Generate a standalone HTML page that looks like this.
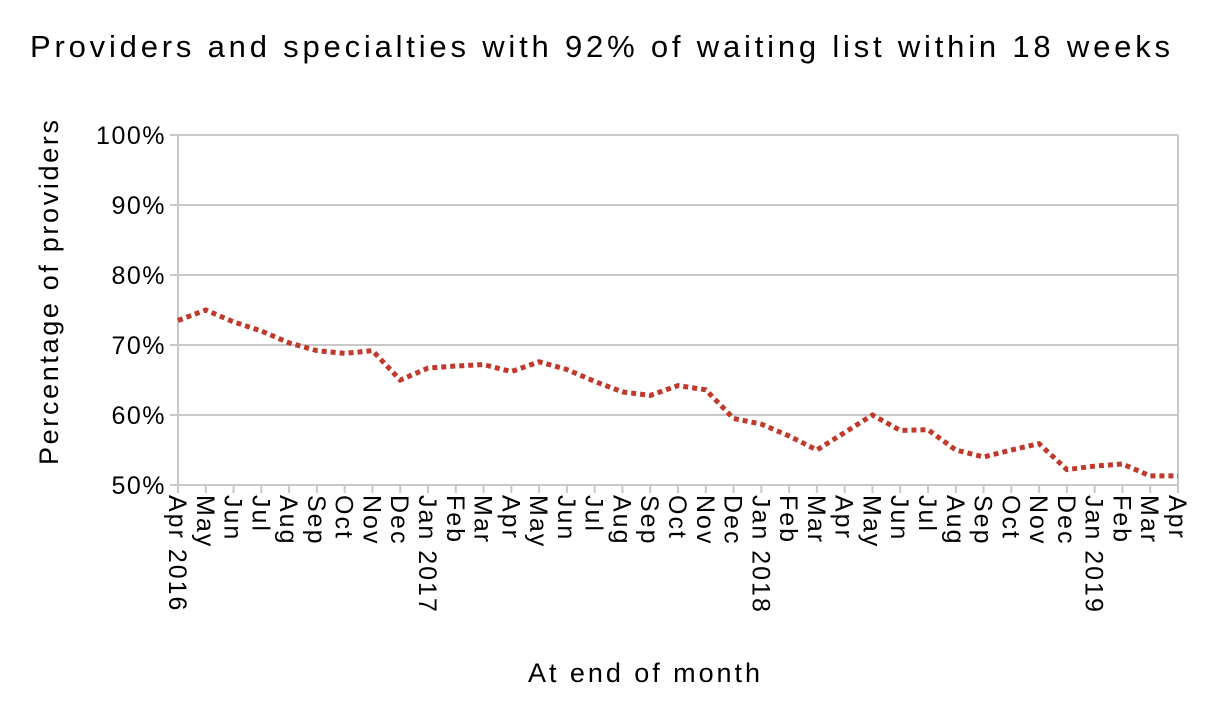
<!DOCTYPE html>
<html><head><meta charset="utf-8"><style>
body{margin:0;background:#fff;font-family:"Liberation Sans",sans-serif;}
svg text{font-family:"Liberation Sans",sans-serif;fill:#000;}
</style></head><body>
<svg width="1214" height="704">
<text x="30" y="57" font-size="31" textLength="1140" lengthAdjust="spacing">Providers and specialties with 92% of waiting list within 18 weeks</text>
<g id="grid"></g><g id="ticks"></g><g id="series"></g>
<text transform="translate(58,465) rotate(-90)" font-size="27" textLength="345" lengthAdjust="spacing">Percentage of providers</text>
<text x="528" y="682" font-size="27" textLength="232" lengthAdjust="spacing">At end of month</text>
</svg>
<script>
const months=["Apr","May","Jun","Jul","Aug","Sep","Oct","Nov","Dec","Jan","Feb","Mar"];
const yearLabels={0:"2016",9:"2017",21:"2018",33:"2019"};
const values=[73.5,75,73.3,72,70.3,69.2,68.8,69.2,65,66.7,67,67.2,66.2,67.6,66.5,64.8,63.3,62.8,64.2,63.6,59.5,58.7,57,55,57.5,60,57.8,57.9,55,54,55,55.9,52.2,52.7,53,51.3,51.3];
const yTicks=[50,60,70,80,90,100];
const L=178,R=1178,T=135,B=485;
const x=i=>L+i*(R-L)/(values.length-1);
const y=v=>B-(v-50)/50*(B-T);
const NS="http://www.w3.org/2000/svg";
const g=document.getElementById('grid'),tk=document.getElementById('ticks'),s=document.getElementById('series');
function mk(tag,attrs,parent){const e=document.createElementNS(NS,tag);for(const k in attrs)e.setAttribute(k,attrs[k]);parent.appendChild(e);return e;}
yTicks.forEach(v=>{
 const l=mk('line',{x1:L-8,x2:R,y1:y(v),y2:y(v),stroke:'#c8c8c8','stroke-width':2},g);
 
 
 const t=mk('text',{x:L-12,y:y(v)+9,'font-size':25,'letter-spacing':'1.5','text-anchor':'end'},tk);
 t.textContent=v+'%';
 
 
});
const ax=mk('line',{x1:L,x2:L,y1:T,y2:B+8,stroke:'#c8c8c8','stroke-width':2},g);


const ax2=mk('line',{x1:R,x2:R,y1:T,y2:B+8,stroke:'#c8c8c8','stroke-width':2},g);


values.forEach((v,i)=>{
 const tl=mk('line',{x1:x(i),x2:x(i),y1:B,y2:B+8,stroke:'#c8c8c8','stroke-width':2},g);
 
 
 let lab=months[i%12]+(yearLabels[i]?' '+yearLabels[i]:'');
 const t=mk('text',{transform:`translate(${x(i)-9},${B+10}) rotate(90)`,'font-size':25,'letter-spacing':'2'},tk);
 t.textContent=lab;
 
 
});
const p=mk('polyline',{points:values.map((v,i)=>x(i)+','+y(v)).join(' '),fill:'none',stroke:'#c0392b','stroke-width':5,'stroke-dasharray':'5 4'},s);


</script>
</body></html>
